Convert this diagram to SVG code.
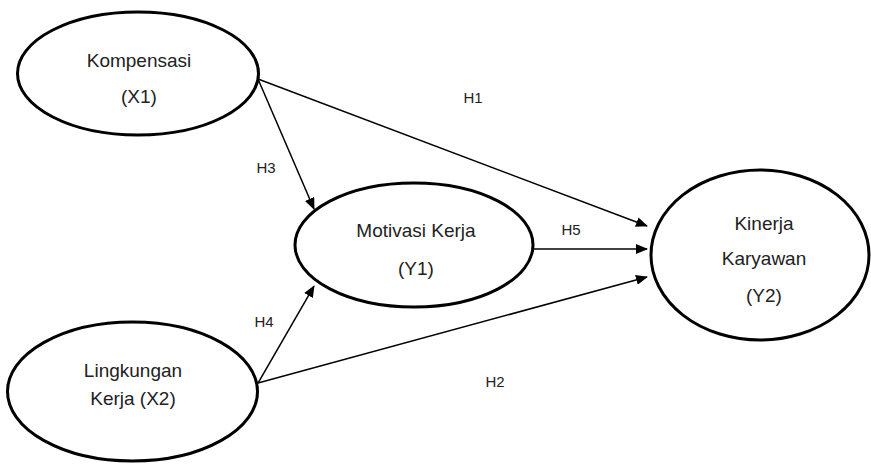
<svg xmlns="http://www.w3.org/2000/svg" width="871" height="464" viewBox="0 0 871 464">
<style>
  .node ellipse { fill: #ffffff; stroke: #000000; stroke-width: 3; }
  .node text { font-family: "Liberation Sans", Arial, sans-serif; font-size: 19px; fill: #222222; text-anchor: middle; }
  .edges line { stroke: #000000; stroke-width: 1.5; marker-end: url(#arrow); }
  .lbl { font-family: "Liberation Sans", Arial, sans-serif; font-size: 15px; fill: #222222; text-anchor: middle; }
</style>
<defs>
  <marker id="arrow" markerUnits="userSpaceOnUse" markerWidth="12" markerHeight="10" refX="11" refY="5" orient="auto">
    <path d="M0,0 L12,5 L0,10 Z" fill="#000000"/>
  </marker>
</defs>
<rect width="871" height="464" fill="#ffffff"/>
<g class="edges">
  <line x1="258" y1="79" x2="647" y2="226"/>
  <line x1="258" y1="79" x2="314" y2="209"/>
  <line x1="533" y1="249" x2="647" y2="249"/>
  <line x1="258" y1="383" x2="314" y2="286"/>
  <line x1="258" y1="383" x2="647" y2="277"/>
  <text class="lbl" x="473" y="103">H1</text>
  <text class="lbl" x="266" y="173">H3</text>
  <text class="lbl" x="571" y="235">H5</text>
  <text class="lbl" x="264" y="327">H4</text>
  <text class="lbl" x="495" y="387">H2</text>
</g>
<g id="kompensasi" class="node">
  <ellipse cx="138" cy="73.5" rx="120.5" ry="61.5"/>
  <text x="139" y="67">Kompensasi</text>
  <text x="139" y="103">(X1)</text>
</g>
<g id="motivasi" class="node">
  <ellipse cx="414" cy="245" rx="119" ry="62"/>
  <text x="416" y="237">Motivasi Kerja</text>
  <text x="416" y="275">(Y1)</text>
</g>
<g id="kinerja" class="node">
  <ellipse cx="760" cy="255" rx="109" ry="85"/>
  <text x="764" y="230">Kinerja</text>
  <text x="764" y="265">Karyawan</text>
  <text x="764" y="302">(Y2)</text>
</g>
<g id="lingkungan" class="node">
  <ellipse cx="132.5" cy="391.5" rx="125" ry="69.5"/>
  <text x="133" y="377">Lingkungan</text>
  <text x="133" y="405">Kerja (X2)</text>
</g>
</svg>
